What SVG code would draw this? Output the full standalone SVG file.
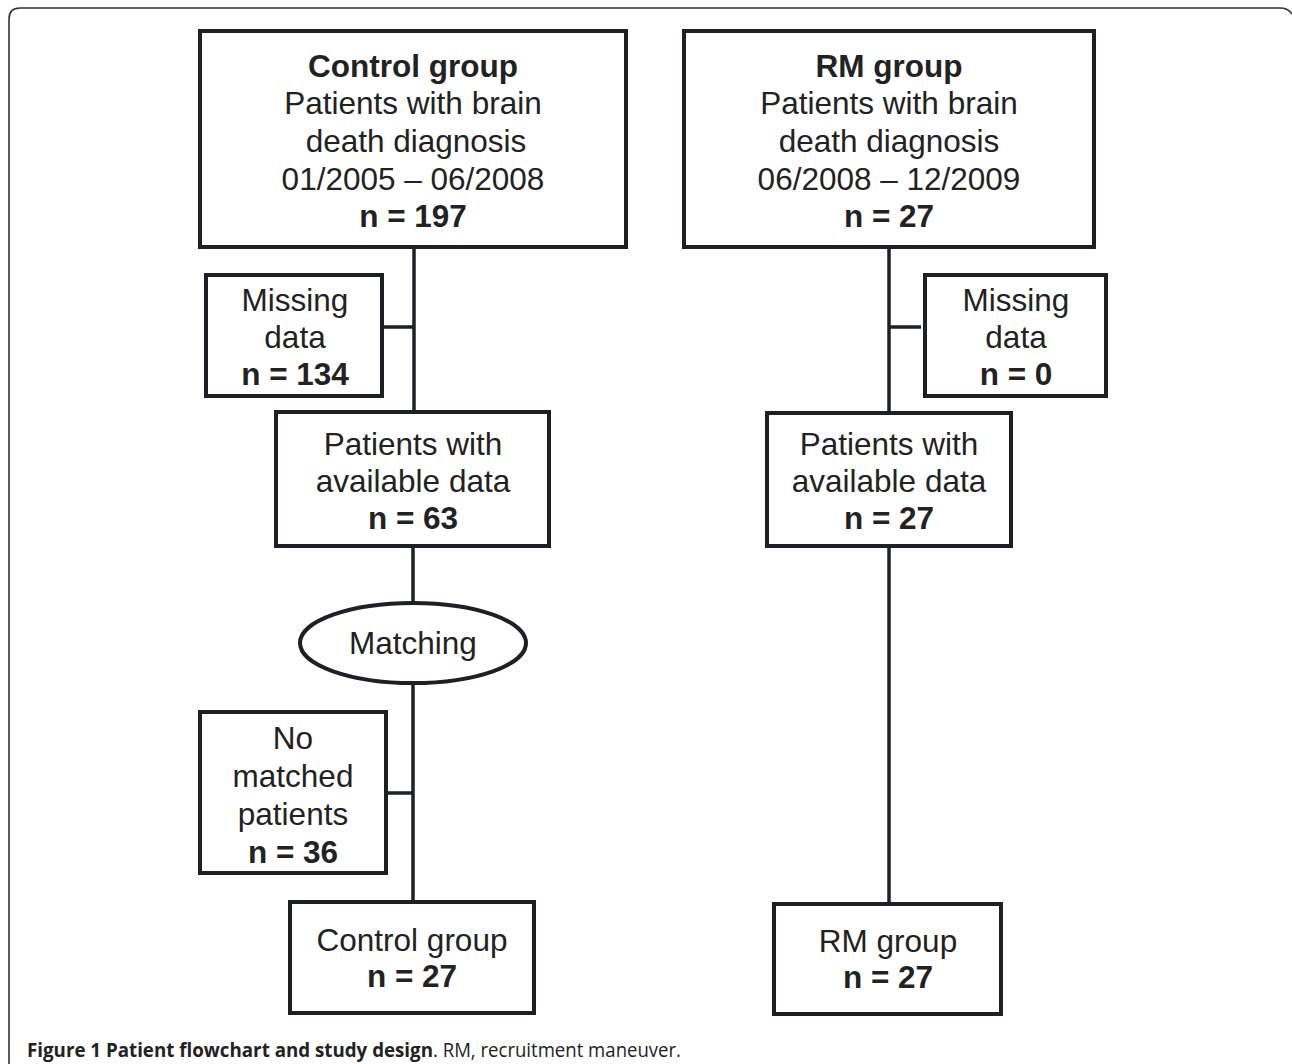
<svg xmlns="http://www.w3.org/2000/svg" width="1292" height="1064" viewBox="0 0 1292 1064">
<style>
.box{fill:#fff;stroke:#1d2126;stroke-width:4}
.ln{stroke:#1d2126;stroke-width:3.5;fill:none}
.t{font-family:"Liberation Sans",Arial,sans-serif;font-size:31.5px;fill:#222;text-anchor:middle}
.b{font-weight:bold}
.cap{font-family:"Open Sans","Liberation Sans",sans-serif;font-size:19.5px;fill:#222}
</style>
<rect x="0" y="0" width="1292" height="1064" fill="#fff"/>
<path d="M9,1064 V19 Q9,8 20,8 H1280 Q1288,8 1292,14" fill="none" stroke="#333" stroke-width="1.6"/>
<g id="connectors">
<line class="ln" x1="414" y1="247" x2="414" y2="412"/>
<line class="ln" x1="382" y1="327" x2="414" y2="327"/>
<line class="ln" x1="413" y1="546" x2="413" y2="603"/>
<line class="ln" x1="413" y1="683" x2="413" y2="902"/>
<line class="ln" x1="386" y1="793" x2="413" y2="793"/>
<line class="ln" x1="889" y1="247" x2="889" y2="413"/>
<line class="ln" x1="889" y1="327" x2="921" y2="327"/>
<line class="ln" x1="889" y1="546" x2="889" y2="904"/>
</g>
<g id="control-top">
<rect class="box" x="200" y="31" width="426" height="216"/>
<text class="t b" x="413" y="77">Control group</text>
<text class="t" x="413" y="114">Patients with brain</text>
<text class="t" x="416" y="152">death diagnosis</text>
<text class="t" x="413" y="190">01/2005 – 06/2008</text>
<text class="t b" x="413" y="227">n = 197</text>
</g>
<g id="rm-top">
<rect class="box" x="684" y="31" width="410" height="216"/>
<text class="t b" x="889" y="77">RM group</text>
<text class="t" x="889" y="114">Patients with brain</text>
<text class="t" x="889" y="152">death diagnosis</text>
<text class="t" x="889" y="190">06/2008 – 12/2009</text>
<text class="t b" x="889" y="227">n = 27</text>
</g>
<g id="control-missing">
<rect class="box" x="206" y="275" width="176" height="121"/>
<text class="t" x="295" y="311">Missing</text>
<text class="t" x="295" y="348">data</text>
<text class="t b" x="295" y="385">n = 134</text>
</g>
<g id="rm-missing">
<rect class="box" x="925" y="275" width="181" height="121"/>
<text class="t" x="1016" y="311">Missing</text>
<text class="t" x="1016" y="348">data</text>
<text class="t b" x="1016" y="385">n = 0</text>
</g>
<g id="control-available">
<rect class="box" x="276" y="412" width="273" height="134"/>
<text class="t" x="413" y="455">Patients with</text>
<text class="t" x="413" y="492">available data</text>
<text class="t b" x="413" y="529">n = 63</text>
</g>
<g id="rm-available">
<rect class="box" x="767" y="413" width="244" height="133"/>
<text class="t" x="889" y="455">Patients with</text>
<text class="t" x="889" y="492">available data</text>
<text class="t b" x="889" y="529">n = 27</text>
</g>
<g id="matching">
<ellipse class="box" cx="413" cy="643" rx="113" ry="40"/>
<text class="t" x="413" y="654">Matching</text>
</g>
<g id="no-matched">
<rect class="box" x="200" y="712" width="186" height="161"/>
<text class="t" x="293" y="749">No</text>
<text class="t" x="293" y="787">matched</text>
<text class="t" x="293" y="825">patients</text>
<text class="t b" x="293" y="863">n = 36</text>
</g>
<g id="control-final">
<rect class="box" x="290" y="902" width="244" height="111"/>
<text class="t" x="412" y="951">Control group</text>
<text class="t b" x="412" y="987">n = 27</text>
</g>
<g id="rm-final">
<rect class="box" x="774" y="904" width="227" height="110"/>
<text class="t" x="888" y="952">RM group</text>
<text class="t b" x="888" y="988">n = 27</text>
</g>
<text class="cap" x="27" y="1057"><tspan font-weight="bold" textLength="406" lengthAdjust="spacingAndGlyphs">Figure 1 Patient flowchart and study design</tspan><tspan textLength="248" lengthAdjust="spacingAndGlyphs">. RM, recruitment maneuver.</tspan></text>
</svg>
